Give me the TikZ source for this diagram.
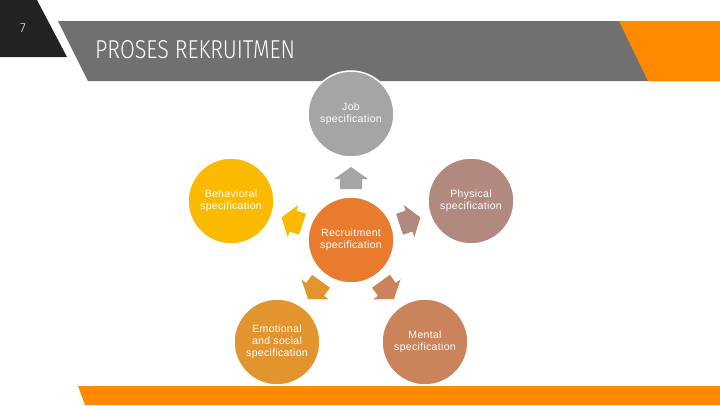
\documentclass[tikz,border=0pt]{standalone}
\usepackage{fontspec}
\usepackage{graphicx}
\setmainfont{Liberation Sans}[LetterSpace=3]
\newfontfamily\titlefont{Fira Sans Light}
\definecolor{hdrblack}{HTML}{222222}
\definecolor{hdrgrey}{HTML}{707070}
\definecolor{hdrorange}{HTML}{FF8A00}
\definecolor{cjob}{HTML}{A5A5A5}
\definecolor{cbeh}{HTML}{FBBA00}
\definecolor{cphy}{HTML}{B2897F}
\definecolor{crec}{HTML}{E97B2F}
\definecolor{cemo}{HTML}{E2952F}
\definecolor{cmen}{HTML}{CA835A}
\tikzset{
  specnode/.style={circle, minimum size=86pt, inner sep=0pt, draw=white, line width=1.5pt,
    text=white, align=center, font=\fontsize{10.5}{12}\selectfont},
  blockarrow/.pic={
    \fill[#1] (51,-11) -- (61,-11) -- (61,-17) -- (73,0) -- (61,17) -- (61,11) -- (51,11) -- cycle;
  }
}
\begin{document}
\begin{tikzpicture}[x=1pt,y=-1pt]
\fill[white] (0,0) rectangle (720,405);
\useasboundingbox (0,0) rectangle (720,405);
% header
\fill[hdrblack] (0,0) -- (37,0) -- (67,57) -- (0,57) -- cycle;
\fill[hdrgrey] (58,21) -- (720,21) -- (720,81) -- (88,81) -- cycle;
\fill[hdrorange] (619,21) -- (720,21) -- (720,81) -- (648,81) -- cycle;
\fill[hdrorange] (78,386) -- (720,386) -- (720,405) -- (85,405) -- cycle;
\node[text=white, font=\titlefont\fontsize{13}{13}\selectfont] (num) at (23,28) {7};
\node[text=white, anchor=west, inner sep=0pt] (title) at (95,50)
  {\resizebox{200pt}{18pt}{\titlefont\fontsize{20}{20}\selectfont PROSES REKRUITMEN}};
% circles
\node[specnode, fill=cjob] (job) at (351,114) {Job\\specification};
\node[specnode, fill=cbeh] (beh) at (231,201) {Behavioral\\specification};
\node[specnode, fill=cphy] (phy) at (471,201) {Physical\\specification};
\node[specnode, fill=crec] (rec) at (351,240) {Recruitment\\specification};
\node[specnode, fill=cemo] (emo) at (277,342) {Emotional\\and social\\specification};
\node[specnode, fill=cmen] (men) at (425,342) {Mental\\specification};
% block arrows
\pic[shift={(rec.center)}, rotate=90] {blockarrow=cjob};
\pic[shift={(rec.center)}, rotate=162] {blockarrow=cbeh};
\pic[shift={(rec.center)}, rotate=18] {blockarrow=cphy};
\pic[shift={(rec.center)}, rotate=234] {blockarrow=cemo};
\pic[shift={(rec.center)}, rotate=306] {blockarrow=cmen};
\end{tikzpicture}
\end{document}
